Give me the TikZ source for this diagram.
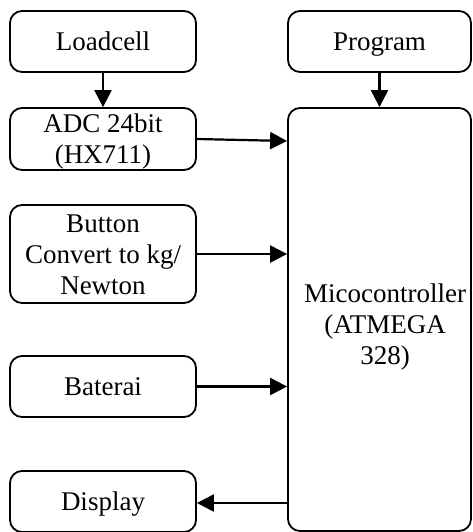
\documentclass[tikz,border=0pt]{standalone}
\usepackage{fontspec}
\setmainfont{Liberation Serif}
\usepackage{tikz}
\usetikzlibrary{positioning,arrows.meta}

\begin{document}
\begin{tikzpicture}[
    x=1pt, y=-1pt,
    font=\fontsize{27}{31}\selectfont,
    block/.style={rounded corners=12pt, draw, line width=1.8pt, fill=white, align=center, inner sep=0pt, minimum width=186pt, minimum height=61pt, text height=18pt, text depth=0pt},
    mcu/.style={rounded corners=12pt, draw, line width=1.8pt, fill=white, align=center, inner sep=0pt, minimum width=183pt, minimum height=423pt},
    flow/.style={-{Triangle[length=17pt,width=17pt]}, line width=2.2pt},
  ]
  \useasboundingbox (0,0) rectangle (472,532);
  \node[block] (loadcell) at (103,41.5) {Loadcell};
  \node[block, minimum height=62pt, text height=53pt, text depth=5pt] (adc) at (103,139) {ADC 24bit\\(HX711)};
  \node[block, minimum height=98pt, text height=85pt, text depth=5pt] (button) at (103,254) {Button\\Convert to kg/\\Newton};
  \node[block] (baterai) at (103,386.5) {Baterai};
  \node[block] (display) at (103,501.5) {Display};
  \node[block, minimum width=183pt] (program) at (379.5,41.5) {Program};
  \node[mcu, text height=94pt, text depth=5pt] (micro) at (379.5,319.5) {\hspace*{11pt}Micocontroller\\\hspace*{11pt}(ATMEGA\\\hspace*{11pt}328)};
  \draw[flow] (loadcell) -- (adc);
  \draw[flow] (program) -- (micro);
  \draw[flow] (adc.east) -- ([yshift=-2pt]adc.east -| micro.west);
  \draw[flow] (button.east) -- (button.east -| micro.west);
  \draw[flow] (baterai.east) -- (baterai.east -| micro.west);
  \draw[flow] ([yshift=-1.5pt]display.east -| micro.west) -- ([yshift=-1.5pt]display.east);
\end{tikzpicture}
\end{document}
